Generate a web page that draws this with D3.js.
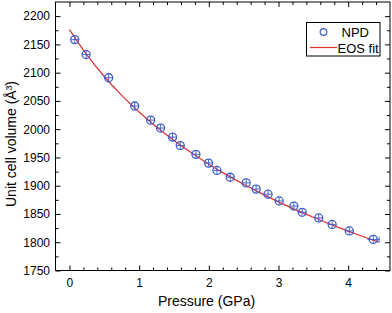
<!DOCTYPE html>
<html><head><meta charset="utf-8">
<script src="https://cdn.jsdelivr.net/npm/d3@7"></script>
<style>
html,body{margin:0;padding:0;background:#fff;}
svg{display:block;font-family:"Liberation Sans",Arial,sans-serif;}
</style></head>
<body>
<svg id="chart" width="392" height="313"></svg>
<script>
// NPD data
const pressure = [0.076, 0.239, 0.563, 0.936, 1.165, 1.308, 1.48, 1.59, 1.815, 1.996, 2.116, 2.307, 2.536, 2.679, 2.85, 3.01, 3.22, 3.34, 3.577, 3.77, 4.016, 4.36];
const volume   = [2158.5, 2132, 2091, 2041, 2016, 2002, 1986, 1971, 1955.5, 1940, 1927, 1915, 1905, 1894, 1885, 1873, 1864, 1853, 1843, 1831.5, 1820, 1805];
const pressureErr = [0.05,0.05,0.05,0.05,0.05,0.05,0.05,0.05,0.05,0.05,0.05,0.05,0.05,0.05,0.05,0.05,0.05,0.05,0.05,0.05,0.05,0.085];
const volumeErr = [6,6,6,6,6,6,6,6,6,6,6,6,6,6,6,6,6,6,6,6,6,6];
// EOS fit curve
const fitPressure = [0, 0.25, 0.5, 0.75, 1.0, 1.25, 1.5, 1.75, 2.0, 2.25, 2.5, 2.75, 3.0, 3.25, 3.5, 3.75, 4.0, 4.25, 4.44];
const fitVolume   = [2176, 2131.4, 2093.2, 2059.8, 2030.3, 2003.9, 1979.9, 1958.1, 1938.1, 1919.6, 1902.5, 1886.4, 1871.4, 1857.3, 1844.1, 1831.5, 1819.6, 1808.3, 1800.1];
// ticks
const xTicks = [0, 1, 2, 3, 4];
const yTicks = [1750, 1800, 1850, 1900, 1950, 2000, 2050, 2100, 2150, 2200];
const legendLabels = ["NPD", "EOS fit"];

const svg = d3.select("#chart");
const m = {left: 55.5, right: 390, top: 2, bottom: 270.5};
const x = d3.scaleLinear().domain([-0.2, 4.6]).range([m.left, m.right]);
const y = d3.scaleLinear().domain([1750, 2225]).range([m.bottom, m.top]);
const blue = "#3b5bc9", red = "#e0302c";
const fmt = d3.format("d");

const xMinor = d3.range(-0.2, 4.61, 0.2).map(v => +v.toFixed(2)).filter(v => !xTicks.includes(v) && v > -0.2 && v < 4.6);
const yMinor = d3.range(1775, 2225, 50);

function axisGroup(axisGen, tr) {
  const g = svg.append("g").attr("transform", tr).call(axisGen);
  g.select(".domain").remove();
  g.selectAll("line").attr("stroke", "#000");
  return g;
}
// bottom
axisGroup(d3.axisBottom(x).tickValues(xTicks).tickFormat(fmt).tickSizeInner(-5).tickSizeOuter(0).tickPadding(7.5), `translate(0,${m.bottom})`)
  .selectAll("text").attr("font-size", 12).attr("fill", "#000");
axisGroup(d3.axisBottom(x).tickValues(xMinor).tickSizeInner(-3).tickSizeOuter(0).tickFormat(""), `translate(0,${m.bottom})`);
// top
axisGroup(d3.axisTop(x).tickValues(xTicks).tickSizeInner(-5).tickSizeOuter(0).tickFormat(""), `translate(0,${m.top})`);
axisGroup(d3.axisTop(x).tickValues(xMinor).tickSizeInner(-3).tickSizeOuter(0).tickFormat(""), `translate(0,${m.top})`);
// left
axisGroup(d3.axisLeft(y).tickValues(yTicks).tickFormat(fmt).tickSizeInner(-5).tickSizeOuter(0).tickPadding(5.5), `translate(${m.left},0)`)
  .selectAll("text").attr("font-size", 12).attr("fill", "#000");
axisGroup(d3.axisLeft(y).tickValues(yMinor).tickSizeInner(-3).tickSizeOuter(0).tickFormat(""), `translate(${m.left},0)`);
// right
axisGroup(d3.axisRight(y).tickValues(yTicks).tickSizeInner(-5).tickSizeOuter(0).tickFormat(""), `translate(${m.right},0)`);
axisGroup(d3.axisRight(y).tickValues(yMinor).tickSizeInner(-3).tickSizeOuter(0).tickFormat(""), `translate(${m.right},0)`);

// frame
svg.append("rect").attr("x", m.left).attr("y", m.top).attr("width", m.right - m.left).attr("height", m.bottom - m.top)
  .attr("fill", "none").attr("stroke", "#000").attr("stroke-width", 1);

// fit line
const fit = fitPressure.map((p, i) => [p, fitVolume[i]]);
svg.append("path").datum(fit)
  .attr("d", d3.line().x(d => x(d[0])).y(d => y(d[1])).curve(d3.curveMonotoneX))
  .attr("fill", "none").attr("stroke", red).attr("stroke-width", 1.2);

// points with error bars
const pts = pressure.map((p, i) => ({p, v: volume[i], ex: pressureErr[i], ey: volumeErr[i]}));
const pg = svg.append("g");
pts.forEach(d => {
  const cx = x(d.p), cy = y(d.v);
  const x0 = x(d.p - d.ex), x1 = x(d.p + d.ex), y0 = y(d.v - d.ey), y1 = y(d.v + d.ey);
  pg.append("line").attr("x1", x0).attr("x2", x1).attr("y1", cy).attr("y2", cy).attr("stroke", blue).attr("stroke-width", 0.9);
  pg.append("line").attr("x1", cx).attr("x2", cx).attr("y1", y0).attr("y2", y1).attr("stroke", blue).attr("stroke-width", 0.9);
  if (d.ex > 0.06) {
    pg.append("line").attr("x1", x1).attr("x2", x1).attr("y1", cy - 3).attr("y2", cy + 3).attr("stroke", blue).attr("stroke-width", 0.9);
  }
  pg.append("circle").attr("cx", cx).attr("cy", cy).attr("r", 4)
    .attr("fill", "none").attr("stroke", blue).attr("stroke-width", 1.3);
});

// axis titles
svg.append("text").attr("x", 206.5).attr("y", 306).attr("text-anchor", "middle")
  .attr("font-size", 14).attr("fill", "#000").text("Pressure (GPa)");
svg.append("text").attr("transform", "translate(16,144) rotate(-90)").attr("text-anchor", "middle")
  .attr("font-size", 14).attr("fill", "#000").text("Unit cell volume (Å³)");

// legend
const lg = svg.append("g");
lg.append("rect").attr("x", 306.5).attr("y", 22.5).attr("width", 73.5).attr("height", 33.5)
  .attr("fill", "#fff").attr("stroke", "#000").attr("stroke-width", 1);
lg.append("circle").attr("cx", 323.5).attr("cy", 32).attr("r", 3.3)
  .attr("fill", "none").attr("stroke", blue).attr("stroke-width", 1.2);
lg.append("text").attr("x", 341.5).attr("y", 37).attr("font-size", 13).attr("fill", "#000").text(legendLabels[0]);
lg.append("line").attr("x1", 310).attr("x2", 337).attr("y1", 47.5).attr("y2", 47.5)
  .attr("stroke", red).attr("stroke-width", 1.2);
lg.append("text").attr("x", 337.5).attr("y", 52.5).attr("font-size", 13).attr("fill", "#000").text(legendLabels[1]);
</script>
</body></html>
